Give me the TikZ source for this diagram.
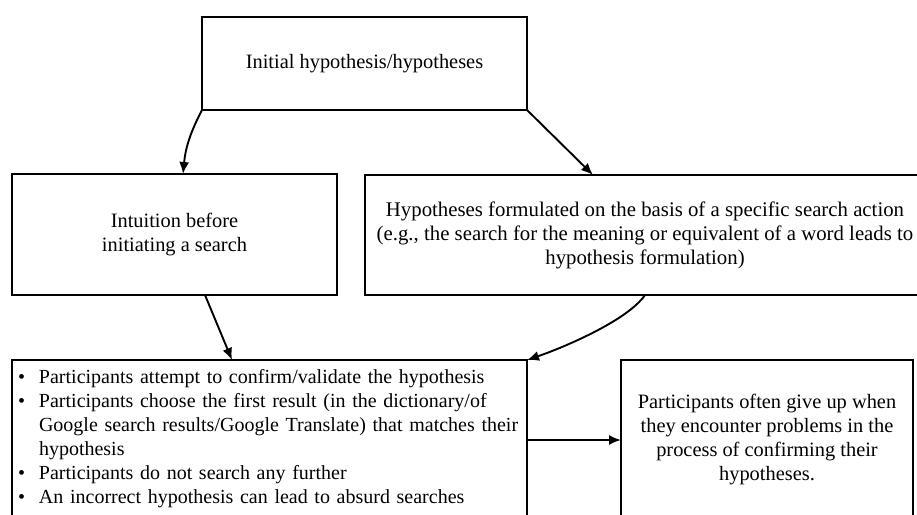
\documentclass[tikz,border=0pt]{standalone}
\usepackage{fontspec}
\setmainfont{Liberation Serif}
\usetikzlibrary{arrows.meta}
\newcommand{\bul}{\makebox[21pt][l]{\textbullet}}
\begin{document}
\begin{tikzpicture}[x=1pt,y=-1pt,
  box/.style={draw=black, line width=1.7pt, rectangle, outer sep=0pt, inner sep=4pt,
    font=\fontsize{20.4pt}{24pt}\selectfont, align=center},
  conn/.style={line width=1.9pt, -{Latex[length=12pt,width=10pt]}}]
\useasboundingbox (0,0) rectangle (917,514);
\clip (0,0) rectangle (917,514);
\node[box, minimum width=325pt, minimum height=93pt] (top) at (364.5,63.5) {Initial hypothesis/hypotheses};
\node[box, minimum width=325pt, minimum height=121pt] (intu) at (174.5,234.5) {Intuition before\\initiating a search};
\node[box, minimum width=560pt, minimum height=120pt, font=\fontsize{20.8pt}{24pt}\selectfont] (hyp) at (645,235) {Hypotheses formulated on the basis of a specific search action\\(e.g., the search for the meaning or equivalent of a word leads to\\hypothesis formulation)};
\node[box, anchor=north west, minimum width=515pt, minimum height=160pt, inner xsep=6pt, text width=503pt, align=left, font=\fontsize{20pt}{24pt}\selectfont] (bl) at (12,360) {%
\vspace*{2pt}\begin{tabular}{@{}l@{}l@{}}
\bul & Participants attempt to confirm/validate the hypothesis\\
\bul & Participants choose the first result (in the dictionary/of\\
 & Google search results/Google Translate) that matches their\\
 & hypothesis\\
\bul & Participants do not search any further\\
\bul & An incorrect hypothesis can lead to absurd searches
\end{tabular}};
\node[box, minimum width=292pt, minimum height=160pt] (br) at (767,440) {Participants often give up when\\they encounter problems in the\\process of confirming their\\hypotheses.};
\draw[conn] (top.south west) to[bend right=11] ([xshift=171pt]intu.north west);
\draw[conn] (top.south east) -- ([xshift=228pt]hyp.north west);
\draw[conn] ([xshift=193pt]intu.south west) -- ([xshift=220pt]bl.north west);
\draw[conn] ([xshift=280pt]hyp.south west) .. controls +(-17,25) and +(38,-13) .. (bl.north east);
\draw[conn] (bl.east) -- (br.west);
\end{tikzpicture}
\end{document}
